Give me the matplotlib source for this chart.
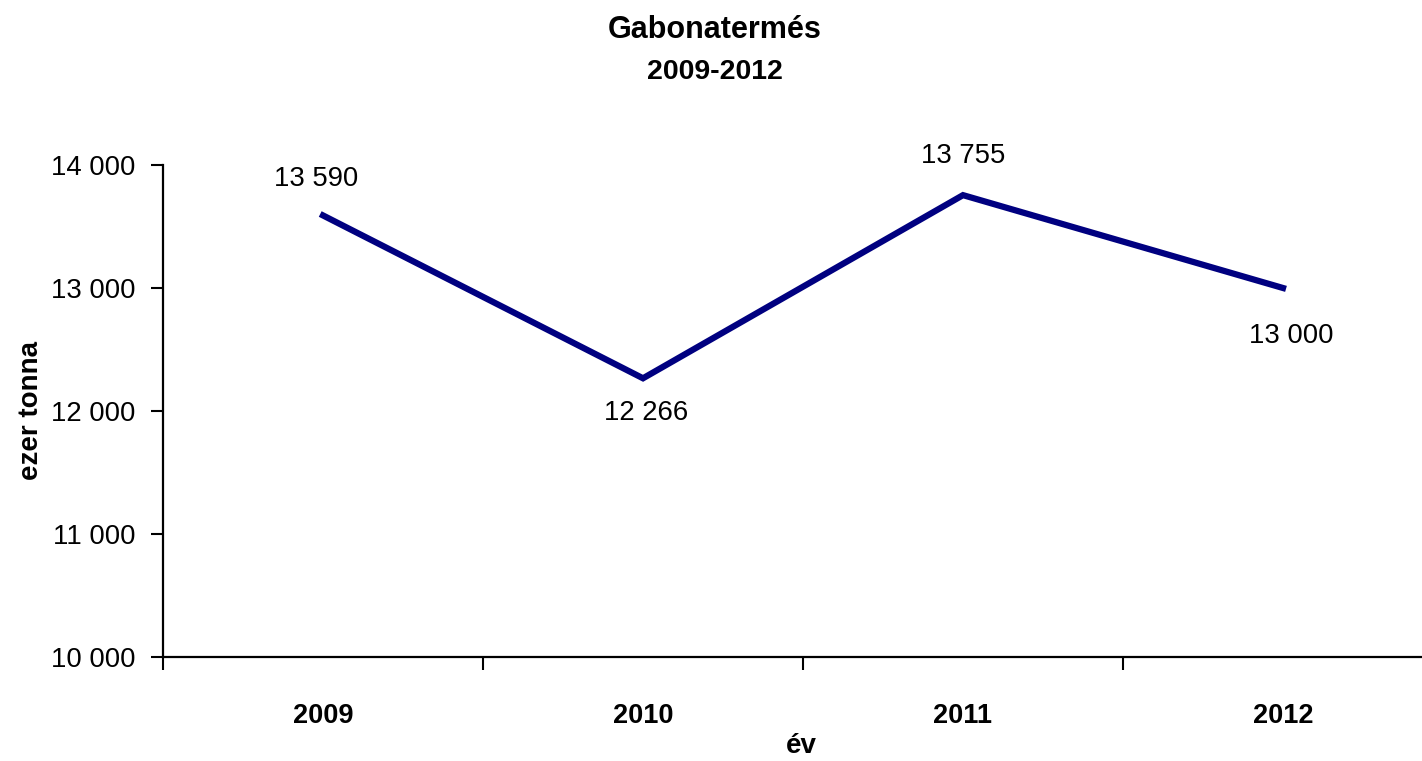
import matplotlib.pyplot as plt
from matplotlib.ticker import FuncFormatter, FixedLocator

plt.rcParams["font.family"] = ["Liberation Sans", "DejaVu Sans"]

# data
years = ["2009", "2010", "2011", "2012"]
harvest = [13590, 12266, 13755, 13000]
# label offsets (pixels) for the value labels
label_offsets = [(-7, 36), (3, -35), (0, 39), (8, -48)]

W, H = 1422, 761
fig = plt.figure(figsize=(W / 100, H / 100), dpi=100)
# the plot area runs past the right edge of the figure, as in the original
ax = fig.add_axes([163 / W, (H - 657) / H, 1280 / W, 492 / H])

x = list(range(len(years)))
ax.plot(x, harvest, color="#000080", lw=4.5, solid_joinstyle="miter", clip_on=False)

for xi, val, (dx, dy) in zip(x, harvest, label_offsets):
    ax.annotate(f"{val:,}".replace(",", " "), (xi, val),
                xytext=(dx, dy), textcoords="offset pixels",
                ha="center", va="center", fontsize=19.8)

ax.set_xlim(-0.5, 3.5)
ax.set_ylim(10000, 14000)
ax.set_yticks(range(10000, 14001, 1000))
ax.yaxis.set_major_formatter(FuncFormatter(lambda v, _: f"{int(v):,}".replace(",", " ")))
ax.tick_params(axis="y", length=9, width=1.5, pad=11, labelsize=19.8, direction="out")

ax.set_xticks(x)
ax.set_xticklabels(years, fontweight="bold", fontsize=19.5)
ax.xaxis.set_minor_locator(FixedLocator([-0.5, 0.5, 1.5, 2.5, 3.5]))
ax.tick_params(axis="x", which="major", length=0, pad=33)
ax.tick_params(axis="x", which="minor", length=9, width=1.5, direction="out")

for side in ("top", "right"):
    ax.spines[side].set_visible(False)
for side in ("left", "bottom"):
    ax.spines[side].set_linewidth(1.6)

fig.text(715 / W, 1 - 30 / H, "Gabonatermés", ha="center", va="center",
         fontsize=22, fontweight="bold")
fig.text(715 / W, 1 - 72 / H, "2009-2012", ha="center", va="center",
         fontsize=20.5, fontweight="bold")
fig.text(801 / W, 1 - 746 / H, "év", ha="center", va="center",
         fontsize=20, fontweight="bold")
fig.text(31 / W, 1 - 411 / H, "ezer tonna", ha="center", va="center",
         rotation=90, fontsize=20, fontweight="bold")

fig.savefig("out.png", dpi=100)
